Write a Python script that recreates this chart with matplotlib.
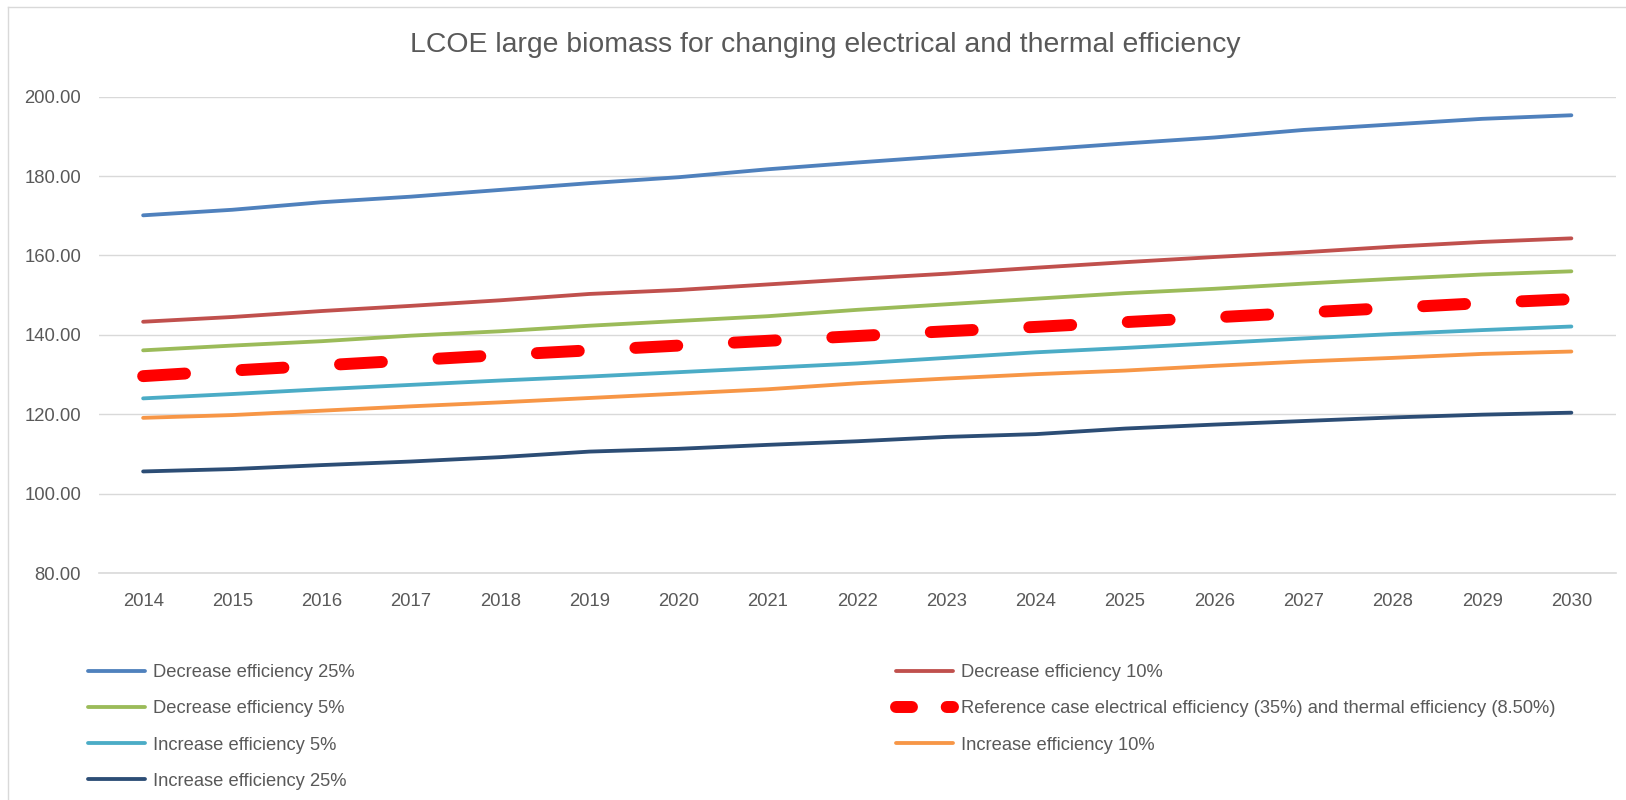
import matplotlib
matplotlib.use("Agg")
import matplotlib.pyplot as plt
from matplotlib.lines import Line2D
from matplotlib.ticker import FormatStrFormatter

plt.rcParams['font.family'] = ['Liberation Sans', 'DejaVu Sans']
plt.rcParams['lines.scale_dashes'] = False

years = [str(y) for y in range(2014, 2031)]

dec25 = [170.1, 171.5, 173.4, 174.8, 176.5, 178.2, 179.7, 181.7, 183.4, 185.0, 186.6, 188.2, 189.7, 191.6, 193.0, 194.4, 195.3]
dec10 = [143.3, 144.5, 146.0, 147.3, 148.7, 150.3, 151.3, 152.7, 154.1, 155.4, 156.9, 158.3, 159.6, 160.8, 162.2, 163.4, 164.3]
dec5 = [136.1, 137.3, 138.4, 139.8, 140.9, 142.3, 143.5, 144.7, 146.3, 147.7, 149.1, 150.5, 151.6, 152.9, 154.1, 155.2, 156.0]
reference = [129.6, 131.0, 132.3, 133.6, 134.9, 136.1, 137.3, 138.5, 139.7, 140.9, 142.0, 143.2, 144.4, 145.6, 146.8, 148.0, 149.0]
inc5 = [124.0, 125.1, 126.3, 127.4, 128.5, 129.5, 130.6, 131.7, 132.8, 134.2, 135.6, 136.7, 137.9, 139.1, 140.2, 141.2, 142.1]
inc10 = [119.1, 119.8, 120.9, 122.0, 123.0, 124.1, 125.2, 126.3, 127.8, 129.0, 130.1, 131.0, 132.2, 133.3, 134.2, 135.2, 135.8]
inc25 = [105.6, 106.2, 107.2, 108.1, 109.2, 110.6, 111.3, 112.3, 113.2, 114.3, 115.0, 116.4, 117.4, 118.3, 119.2, 119.9, 120.4]

labels = [
    "Decrease efficiency 25%",
    "Decrease efficiency 10%",
    "Decrease efficiency 5%",
    "Reference case electrical efficiency (35%) and thermal efficiency (8.50%)",
    "Increase efficiency 5%",
    "Increase efficiency 10%",
    "Increase efficiency 25%",
]
colors = ["#4F81BD", "#C0504D", "#9BBB59", "#FF0000", "#4BACC6", "#F79646", "#2C4D75"]
series = [dec25, dec10, dec5, reference, inc5, inc10, inc25]

title = "LCOE large biomass for changing electrical and thermal efficiency"
TXT = "#595959"
GRID = "#D9D9D9"

W, H = 1626, 800
fig = plt.figure(figsize=(W / 100, H / 100), dpi=100)
ax = fig.add_axes([98.5 / W, 1 - 573.1 / H, (1616 - 98.5) / W, (573.1 - 96.6) / H])

x = list(range(len(years)))
solid_lw = 2.75
ref_lw = 8.6
handles = []
for s, c, lab in zip(series, colors, labels):
    if c == "#FF0000":
        ln, = ax.plot(x, s, color=c, lw=ref_lw, solid_capstyle='round',
                      dash_capstyle='round', zorder=3)
        ln.set_dashes((30.2, 40.8))
        h = Line2D([], [], color=c, lw=ref_lw, dash_capstyle='round')
        h.set_dashes((11.5, 25.0))
    else:
        ln, = ax.plot(x, s, color=c, lw=solid_lw, solid_capstyle='round', zorder=3)
        h = Line2D([], [], color=c, lw=solid_lw, solid_capstyle='round')
    handles.append(h)

ax.set_xlim(-0.5, len(years) - 0.5)
ax.set_ylim(80, 200)
ax.set_yticks([80, 100, 120, 140, 160, 180, 200])
ax.yaxis.set_major_formatter(FormatStrFormatter('%.2f'))
ax.set_xticks(x)
ax.set_xticklabels(years)
ax.grid(axis='y', color=GRID, lw=1.0, zorder=0)
ax.set_axisbelow(True)
for sp in ['left', 'right', 'top']:
    ax.spines[sp].set_visible(False)
ax.spines['bottom'].set_color(GRID)
ax.spines['bottom'].set_linewidth(1.2)
ax.tick_params(axis='y', length=0, pad=12.6, labelsize=13.3, labelcolor=TXT)
ax.tick_params(axis='x', length=0, pad=14.4, labelsize=13.3, labelcolor=TXT)

fig.text(825 / W, 1 - 45 / H, title, ha='center', va='center', fontsize=20.4, color=TXT)

# legend: two columns
col1 = [0, 2, 4, 6]
col2 = [1, 3, 5]
common = dict(frameon=False, fontsize=13.2, labelcolor=TXT, handlelength=3.1,
              handletextpad=0.46, borderpad=0, borderaxespad=0, labelspacing=1.05,
              loc='upper left')
leg1 = fig.legend([handles[i] for i in col1], [labels[i] for i in col1],
                  bbox_to_anchor=(88 / W, 1 - 664 / H), **common)
leg2 = fig.legend([handles[i] for i in col2], [labels[i] for i in col2],
                  bbox_to_anchor=(896 / W, 1 - 664 / H), **common)

# chart border
fig.add_artist(Line2D([8 / W, 8 / W], [0, 1 - 7 / H], transform=fig.transFigure, color=GRID, lw=1))
fig.add_artist(Line2D([8 / W, 1], [1 - 7 / H, 1 - 7 / H], transform=fig.transFigure, color=GRID, lw=1))

fig.savefig("out.png", dpi=100)
